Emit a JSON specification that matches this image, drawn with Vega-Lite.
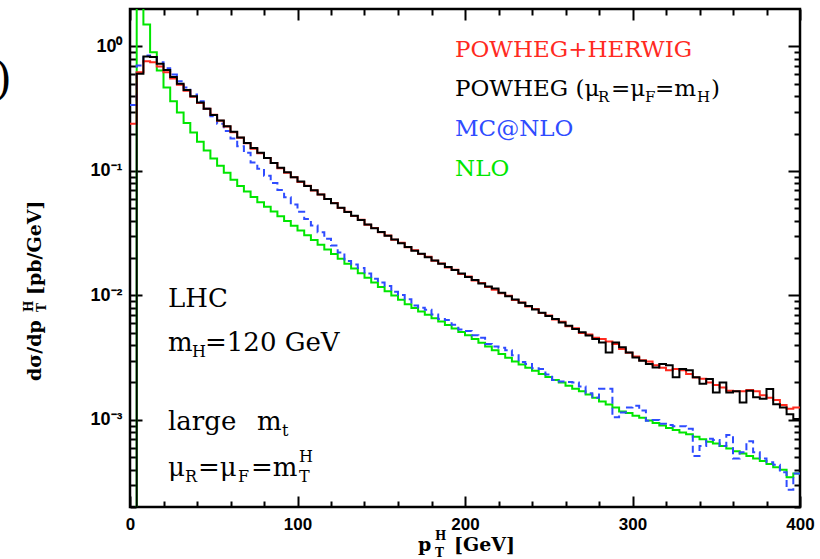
{
  "$schema": "https://vega.github.io/schema/vega-lite/v6.json",
  "width": 670,
  "height": 498,
  "autosize": {"type": "none"},
  "padding": {"left": 130, "top": 9, "right": 20, "bottom": 52},
  "background": "white",
  "config": {"view": {"stroke": "black", "strokeWidth": 2.5}},
  "datasets": {
    "curves": [
      {"pt":0,"PH":0.24,"P":0.00001,"MC":0.339,"NLO":0.00001},
      {"pt":4,"PH":0.622,"P":0.603,"MC":0.703,"NLO":20},
      {"pt":8,"PH":0.762,"P":0.832,"MC":0.847,"NLO":1.5},
      {"pt":12,"PH":0.748,"P":0.822,"MC":0.822,"NLO":0.9},
      {"pt":16,"PH":0.69,"P":0.726,"MC":0.748,"NLO":0.641},
      {"pt":20,"PH":0.62,"P":0.646,"MC":0.668,"NLO":0.468},
      {"pt":24,"PH":0.552,"P":0.569,"MC":0.596,"NLO":0.363},
      {"pt":28,"PH":0.492,"P":0.501,"MC":0.525,"NLO":0.295},
      {"pt":32,"PH":0.44,"P":0.447,"MC":0.468,"NLO":0.243},
      {"pt":36,"PH":0.394,"P":0.398,"MC":0.412,"NLO":0.204},
      {"pt":40,"PH":0.352,"P":0.355,"MC":0.363,"NLO":0.172},
      {"pt":44,"PH":0.316,"P":0.316,"MC":0.316,"NLO":0.146},
      {"pt":48,"PH":0.283,"P":0.282,"MC":0.275,"NLO":0.126},
      {"pt":52,"PH":0.253,"P":0.254,"MC":0.24,"NLO":0.11},
      {"pt":56,"PH":0.228,"P":0.229,"MC":0.209,"NLO":0.0966},
      {"pt":60,"PH":0.205,"P":0.207,"MC":0.182,"NLO":0.0851},
      {"pt":64,"PH":0.185,"P":0.186,"MC":0.158,"NLO":0.0759},
      {"pt":68,"PH":0.167,"P":0.168,"MC":0.14,"NLO":0.0684},
      {"pt":72,"PH":0.151,"P":0.153,"MC":0.117,"NLO":0.0617},
      {"pt":76,"PH":0.139,"P":0.14,"MC":0.104,"NLO":0.0562},
      {"pt":80,"PH":0.127,"P":0.127,"MC":0.0916,"NLO":0.0515},
      {"pt":84,"PH":0.116,"P":0.116,"MC":0.0802,"NLO":0.0472},
      {"pt":88,"PH":0.105,"P":0.106,"MC":0.0702,"NLO":0.0433},
      {"pt":92,"PH":0.097,"P":0.0977,"MC":0.0614,"NLO":0.0396},
      {"pt":96,"PH":0.089,"P":0.0891,"MC":0.0537,"NLO":0.0363},
      {"pt":100,"PH":0.0815,"P":0.0822,"MC":0.047,"NLO":0.0333},
      {"pt":104,"PH":0.076,"P":0.0759,"MC":0.0411,"NLO":0.0305},
      {"pt":108,"PH":0.0698,"P":0.07,"MC":0.0364,"NLO":0.0279},
      {"pt":112,"PH":0.0648,"P":0.0646,"MC":0.0322,"NLO":0.0256},
      {"pt":116,"PH":0.0595,"P":0.0596,"MC":0.0285,"NLO":0.0234},
      {"pt":120,"PH":0.0552,"P":0.055,"MC":0.0252,"NLO":0.0215},
      {"pt":124,"PH":0.0505,"P":0.0507,"MC":0.0221,"NLO":0.0197},
      {"pt":128,"PH":0.047,"P":0.0468,"MC":0.0189,"NLO":0.018},
      {"pt":132,"PH":0.0435,"P":0.0437,"MC":0.0177,"NLO":0.0165},
      {"pt":136,"PH":0.0405,"P":0.0403,"MC":0.0166,"NLO":0.0151},
      {"pt":140,"PH":0.037,"P":0.0372,"MC":0.015,"NLO":0.0139},
      {"pt":144,"PH":0.0349,"P":0.0347,"MC":0.0136,"NLO":0.0127},
      {"pt":148,"PH":0.0322,"P":0.0324,"MC":0.0127,"NLO":0.0117},
      {"pt":152,"PH":0.0303,"P":0.0302,"MC":0.0119,"NLO":0.0108},
      {"pt":156,"PH":0.028,"P":0.0282,"MC":0.0107,"NLO":0.01},
      {"pt":160,"PH":0.0265,"P":0.0263,"MC":0.0101,"NLO":0.00923},
      {"pt":164,"PH":0.0244,"P":0.0245,"MC":0.00933,"NLO":0.00851},
      {"pt":168,"PH":0.0231,"P":0.0229,"MC":0.00832,"NLO":0.00794},
      {"pt":172,"PH":0.0215,"P":0.0216,"MC":0.00798,"NLO":0.00745},
      {"pt":176,"PH":0.0205,"P":0.0203,"MC":0.00767,"NLO":0.007},
      {"pt":180,"PH":0.019,"P":0.0191,"MC":0.00703,"NLO":0.00656},
      {"pt":184,"PH":0.0181,"P":0.018,"MC":0.00646,"NLO":0.00617},
      {"pt":188,"PH":0.0168,"P":0.0169,"MC":0.00634,"NLO":0.00578},
      {"pt":192,"PH":0.0161,"P":0.016,"MC":0.00581,"NLO":0.00542},
      {"pt":196,"PH":0.0149,"P":0.015,"MC":0.00533,"NLO":0.00509},
      {"pt":200,"PH":0.0142,"P":0.0141,"MC":0.00519,"NLO":0.00479},
      {"pt":204,"PH":0.0132,"P":0.0133,"MC":0.00479,"NLO":0.00447},
      {"pt":208,"PH":0.0126,"P":0.0125,"MC":0.00457,"NLO":0.00417},
      {"pt":212,"PH":0.0117,"P":0.0118,"MC":0.00407,"NLO":0.00389},
      {"pt":216,"PH":0.0111,"P":0.0114,"MC":0.00389,"NLO":0.00363},
      {"pt":220,"PH":0.0104,"P":0.0105,"MC":0.0038,"NLO":0.00339},
      {"pt":224,"PH":0.00995,"P":0.00984,"MC":0.00363,"NLO":0.00316},
      {"pt":228,"PH":0.0092,"P":0.00927,"MC":0.00331,"NLO":0.00295},
      {"pt":232,"PH":0.0088,"P":0.00873,"MC":0.00292,"NLO":0.00279},
      {"pt":236,"PH":0.00815,"P":0.00822,"MC":0.00282,"NLO":0.00263},
      {"pt":240,"PH":0.0078,"P":0.00773,"MC":0.0026,"NLO":0.00248},
      {"pt":244,"PH":0.00722,"P":0.00728,"MC":0.00257,"NLO":0.00234},
      {"pt":248,"PH":0.00692,"P":0.00685,"MC":0.00232,"NLO":0.00221},
      {"pt":252,"PH":0.0064,"P":0.00646,"MC":0.00209,"NLO":0.00209},
      {"pt":256,"PH":0.00615,"P":0.00608,"MC":0.00204,"NLO":0.002},
      {"pt":260,"PH":0.00565,"P":0.00571,"MC":0.00202,"NLO":0.00188},
      {"pt":264,"PH":0.00545,"P":0.00538,"MC":0.002,"NLO":0.00178},
      {"pt":268,"PH":0.005,"P":0.00507,"MC":0.00186,"NLO":0.0017},
      {"pt":272,"PH":0.00485,"P":0.00478,"MC":0.00164,"NLO":0.0016},
      {"pt":276,"PH":0.00457,"P":0.00447,"MC":0.00151,"NLO":0.00151},
      {"pt":280,"PH":0.00447,"P":0.0042,"MC":0.00178,"NLO":0.00141},
      {"pt":284,"PH":0.00427,"P":0.00349,"MC":0.00178,"NLO":0.00133},
      {"pt":288,"PH":0.00407,"P":0.0042,"MC":0.00105,"NLO":0.00126},
      {"pt":292,"PH":0.00372,"P":0.00383,"MC":0.00115,"NLO":0.00117},
      {"pt":296,"PH":0.00347,"P":0.00349,"MC":0.00126,"NLO":0.00114},
      {"pt":300,"PH":0.00324,"P":0.00318,"MC":0.0013,"NLO":0.00108},
      {"pt":304,"PH":0.00302,"P":0.00299,"MC":0.00119,"NLO":0.00104},
      {"pt":308,"PH":0.00295,"P":0.00281,"MC":0.000986,"NLO":0.000989},
      {"pt":312,"PH":0.00275,"P":0.00264,"MC":0.001,"NLO":0.000944},
      {"pt":316,"PH":0.00263,"P":0.00282,"MC":0.000933,"NLO":0.000902},
      {"pt":320,"PH":0.00251,"P":0.00275,"MC":0.000912,"NLO":0.000861},
      {"pt":324,"PH":0.00257,"P":0.0022,"MC":0.000891,"NLO":0.000832},
      {"pt":328,"PH":0.00251,"P":0.00257,"MC":0.000891,"NLO":0.000794},
      {"pt":332,"PH":0.00234,"P":0.00251,"MC":0.000851,"NLO":0.000767},
      {"pt":336,"PH":0.00219,"P":0.0022,"MC":0.000513,"NLO":0.000733},
      {"pt":340,"PH":0.00214,"P":0.00195,"MC":0.000617,"NLO":0.0007},
      {"pt":344,"PH":0.002,"P":0.00213,"MC":0.000708,"NLO":0.000668},
      {"pt":348,"PH":0.00191,"P":0.00166,"MC":0.000692,"NLO":0.000646},
      {"pt":352,"PH":0.00182,"P":0.002,"MC":0.000617,"NLO":0.000617},
      {"pt":356,"PH":0.00172,"P":0.00166,"MC":0.000759,"NLO":0.000589},
      {"pt":360,"PH":0.0017,"P":0.0017,"MC":0.00049,"NLO":0.000562},
      {"pt":364,"PH":0.0017,"P":0.00138,"MC":0.00055,"NLO":0.000537},
      {"pt":368,"PH":0.00174,"P":0.00172,"MC":0.000676,"NLO":0.000513},
      {"pt":372,"PH":0.0017,"P":0.00152,"MC":0.00055,"NLO":0.00049},
      {"pt":376,"PH":0.00158,"P":0.00148,"MC":0.00049,"NLO":0.000468},
      {"pt":380,"PH":0.00151,"P":0.00177,"MC":0.000457,"NLO":0.000442},
      {"pt":384,"PH":0.00145,"P":0.00134,"MC":0.000437,"NLO":0.000417},
      {"pt":388,"PH":0.00132,"P":0.00126,"MC":0.00038,"NLO":0.000398},
      {"pt":392,"PH":0.00123,"P":0.00111,"MC":0.000275,"NLO":0.000347},
      {"pt":396,"PH":0.00126,"P":0.00102,"MC":0.000372,"NLO":0.000372},
      {"pt":400,"PH":0.00126,"P":0.00102,"MC":0.000372,"NLO":0.000372}
    ],
    "leg": [
      {"x":194.03,"y":0.823,"t":"POWHEG+HERWIG","s":"PH"},
      {"x":194.03,"y":0.4002,"t":"POWHEG (μ","s":"P"},
      {"x":287.16,"y":0.4002,"t":"=μ","s":"P"},
      {"x":313.43,"y":0.4002,"t":"=m","s":"P"},
      {"x":346.87,"y":0.4002,"t":")","s":"P"},
      {"x":194.03,"y":0.191,"t":"MC@NLO","s":"MC"},
      {"x":194.03,"y":0.09114,"t":"NLO","s":"NLO"}
    ],
    "legsub": [
      {"x":279.4,"y":0.3581,"t":"R","s":"P"},
      {"x":307.46,"y":0.3581,"t":"F","s":"P"},
      {"x":338.5,"y":0.3581,"t":"H","s":"P"}
    ],
    "ann": [
      {"x":22.69,"y":0.008079,"t":"LHC"},
      {"x":22.69,"y":0.003581,"t":"m"},
      {"x":44.78,"y":0.003581,"t":"=120  GeV"},
      {"x":22.69,"y":0.000831,"t":"large"},
      {"x":75.82,"y":0.000831,"t":"m"},
      {"x":22.69,"y":0.0003548,"t":"μ"},
      {"x":40.6,"y":0.0003548,"t":"=μ"},
      {"x":72.24,"y":0.0003548,"t":"=m"}
    ],
    "annsub": [
      {"x":37.01,"y":0.003206,"t":"H"},
      {"x":90.75,"y":0.000743,"t":"t"},
      {"x":32.84,"y":0.0003175,"t":"R"},
      {"x":64.48,"y":0.0003175,"t":"F"},
      {"x":100.9,"y":0.0003175,"t":"T"},
      {"x":100.9,"y":0.0004597,"t":"H"}
    ],
    "xt": [
      {"x":171.94,"y":0.0000886,"t":"p"},
      {"x":193.43,"y":0.0000886,"t":"[GeV]"}
    ],
    "xtsub": [
      {"x":182.09,"y":0.0000793,"t":"T"},
      {"x":182.09,"y":0.0001086,"t":"H"}
    ],
    "yt": [
      {"x":-53.13,"y":0.002056,"t":"dσ/dp"},
      {"x":-53.13,"y":0.01009,"t":"[pb/GeV]"}
    ],
    "ytsub": [
      {"x":-50.15,"y":0.007369,"t":"T"},
      {"x":-57.91,"y":0.007369,"t":"H"}
    ],
    "paren": [
      {"x":-70.45,"y":0.4152,"t":")"}
    ]
  },
  "resolve": {"axis": {"x": "independent", "y": "independent"}},
  "layer": [
    {
      "data": {"name": "curves"},
      "transform": [
        {"fold": ["PH", "P", "MC", "NLO"], "as": ["series", "val"]},
        {"filter": "datum.series === 'NLO'"}
      ],
      "mark": {"type": "line", "interpolate": "step-after", "strokeWidth": 2, "clip": true},
      "encoding": {
        "x": {
          "field": "pt", "type": "quantitative",
          "scale": {"domain": [0, 400], "nice": false, "zero": false},
          "axis": {
            "orient": "bottom", "title": null, "domain": false, "grid": false,
            "values": [0,20,40,60,80,100,120,140,160,180,200,220,240,260,280,300,320,340,360,380,400],
            "labelExpr": "datum.value % 100 === 0 ? datum.label : ''",
            "tickSize": {"condition": {"test": "datum.value % 100 === 0", "value": -11}, "value": -6},
            "tickColor": "black", "tickWidth": 2,
            "labelFont": "Liberation Sans", "labelFontWeight": "bold", "labelFontSize": 17,
            "labelColor": "black", "labelPadding": 20, "labelFlush": false, "labelOverlap": false
          }
        },
        "y": {
          "field": "val", "type": "quantitative",
          "scale": {"type": "log", "domain": [0.0002, 2], "nice": false},
          "axis": {
            "orient": "left", "title": null, "domain": false, "grid": false,
            "values": [0.0002,0.0003,0.0004,0.0005,0.0006,0.0007,0.0008,0.0009,0.001,0.002,0.003,0.004,0.005,0.006,0.007,0.008,0.009,0.01,0.02,0.03,0.04,0.05,0.06,0.07,0.08,0.09,0.1,0.2,0.3,0.4,0.5,0.6,0.7,0.8,0.9,1],
            "labelExpr": "datum.value === 1 ? '10⁰' : datum.value === 0.1 ? '10⁻¹' : datum.value === 0.01 ? '10⁻²' : datum.value === 0.001 ? '10⁻³' : ''",
            "tickSize": {"condition": {"test": "indexof([1, 0.1, 0.01, 0.001], datum.value) >= 0", "value": -12}, "value": -6},
            "tickColor": "black", "tickWidth": 2,
            "labelFont": "Liberation Sans", "labelFontWeight": "bold", "labelFontSize": 18,
            "labelColor": "black", "labelPadding": 20, "labelOverlap": false
          }
        },
        "color": {"field": "series", "type": "nominal", "legend": null,
          "scale": {"domain": ["PH", "P", "MC", "NLO"], "range": ["#ff2a1f", "#000000", "#2f4cff", "#00e600"]}}
      }
    },
    {
      "data": {"name": "curves"},
      "transform": [
        {"fold": ["PH", "P", "MC", "NLO"], "as": ["series", "val"]},
        {"filter": "datum.series === 'MC'"}
      ],
      "mark": {"type": "line", "interpolate": "step-after", "strokeWidth": 2, "strokeDash": [7, 4], "clip": true},
      "encoding": {
        "x": {"field": "pt", "type": "quantitative", "axis": null},
        "y": {"field": "val", "type": "quantitative", "axis": null},
        "color": {"field": "series", "type": "nominal", "legend": null}
      }
    },
    {
      "data": {"name": "curves"},
      "transform": [
        {"fold": ["PH", "P", "MC", "NLO"], "as": ["series", "val"]},
        {"filter": "datum.series === 'PH'"}
      ],
      "mark": {"type": "line", "interpolate": "step-after", "strokeWidth": 2, "clip": true},
      "encoding": {
        "x": {"field": "pt", "type": "quantitative", "axis": null},
        "y": {"field": "val", "type": "quantitative", "axis": null},
        "color": {"field": "series", "type": "nominal", "legend": null}
      }
    },
    {
      "data": {"name": "curves"},
      "transform": [
        {"fold": ["PH", "P", "MC", "NLO"], "as": ["series", "val"]},
        {"filter": "datum.series === 'P'"}
      ],
      "mark": {"type": "line", "interpolate": "step-after", "strokeWidth": 2, "clip": true},
      "encoding": {
        "x": {"field": "pt", "type": "quantitative", "axis": null},
        "y": {"field": "val", "type": "quantitative", "axis": null},
        "color": {"field": "series", "type": "nominal", "legend": null}
      }
    },
    {
      "data": {"name": "leg"},
      "mark": {"type": "text", "align": "left", "baseline": "alphabetic", "font": "DejaVu Serif", "fontSize": 23},
      "encoding": {
        "x": {"field": "x", "type": "quantitative",
          "axis": {
            "orient": "top", "title": null, "domain": false, "grid": false, "labels": false,
            "values": [0,20,40,60,80,100,120,140,160,180,200,220,240,260,280,300,320,340,360,380,400],
            "tickSize": {"condition": {"test": "datum.value % 100 === 0", "value": -11}, "value": -6},
            "tickColor": "black", "tickWidth": 2
          }},
        "y": {"field": "y", "type": "quantitative",
          "axis": {
            "orient": "right", "title": null, "domain": false, "grid": false, "labels": false,
            "values": [0.0002,0.0003,0.0004,0.0005,0.0006,0.0007,0.0008,0.0009,0.001,0.002,0.003,0.004,0.005,0.006,0.007,0.008,0.009,0.01,0.02,0.03,0.04,0.05,0.06,0.07,0.08,0.09,0.1,0.2,0.3,0.4,0.5,0.6,0.7,0.8,0.9,1],
            "tickSize": {"condition": {"test": "indexof([1, 0.1, 0.01, 0.001], datum.value) >= 0", "value": -12}, "value": -6},
            "tickColor": "black", "tickWidth": 2
          }},
        "text": {"field": "t", "type": "nominal"},
        "color": {"field": "s", "type": "nominal", "legend": null}
      }
    },
    {
      "data": {"name": "legsub"},
      "mark": {"type": "text", "align": "left", "baseline": "alphabetic", "font": "DejaVu Serif", "fontSize": 15},
      "encoding": {
        "x": {"field": "x", "type": "quantitative", "axis": null},
        "y": {"field": "y", "type": "quantitative", "axis": null},
        "text": {"field": "t", "type": "nominal"},
        "color": {"field": "s", "type": "nominal", "legend": null}
      }
    },
    {
      "data": {"name": "ann"},
      "mark": {"type": "text", "align": "left", "baseline": "alphabetic", "font": "DejaVu Serif", "fontSize": 26, "color": "black"},
      "encoding": {
        "x": {"field": "x", "type": "quantitative", "axis": null},
        "y": {"field": "y", "type": "quantitative", "axis": null},
        "text": {"field": "t", "type": "nominal"}
      }
    },
    {
      "data": {"name": "annsub"},
      "mark": {"type": "text", "align": "left", "baseline": "alphabetic", "font": "DejaVu Serif", "fontSize": 16, "color": "black"},
      "encoding": {
        "x": {"field": "x", "type": "quantitative", "axis": null},
        "y": {"field": "y", "type": "quantitative", "axis": null},
        "text": {"field": "t", "type": "nominal"}
      }
    },
    {
      "data": {"name": "xt"},
      "mark": {"type": "text", "align": "left", "baseline": "alphabetic", "font": "DejaVu Serif", "fontWeight": "bold", "fontSize": 19, "color": "black"},
      "encoding": {
        "x": {"field": "x", "type": "quantitative", "axis": null},
        "y": {"field": "y", "type": "quantitative", "axis": null},
        "text": {"field": "t", "type": "nominal"}
      }
    },
    {
      "data": {"name": "xtsub"},
      "mark": {"type": "text", "align": "left", "baseline": "alphabetic", "font": "DejaVu Serif", "fontWeight": "bold", "fontSize": 12, "color": "black"},
      "encoding": {
        "x": {"field": "x", "type": "quantitative", "axis": null},
        "y": {"field": "y", "type": "quantitative", "axis": null},
        "text": {"field": "t", "type": "nominal"}
      }
    },
    {
      "data": {"name": "yt"},
      "mark": {"type": "text", "align": "left", "baseline": "alphabetic", "angle": 270, "font": "DejaVu Serif", "fontWeight": "bold", "fontSize": 19, "color": "black"},
      "encoding": {
        "x": {"field": "x", "type": "quantitative", "axis": null},
        "y": {"field": "y", "type": "quantitative", "axis": null},
        "text": {"field": "t", "type": "nominal"}
      }
    },
    {
      "data": {"name": "ytsub"},
      "mark": {"type": "text", "align": "left", "baseline": "alphabetic", "angle": 270, "font": "DejaVu Serif", "fontWeight": "bold", "fontSize": 12, "color": "black"},
      "encoding": {
        "x": {"field": "x", "type": "quantitative", "axis": null},
        "y": {"field": "y", "type": "quantitative", "axis": null},
        "text": {"field": "t", "type": "nominal"}
      }
    },
    {
      "data": {"name": "paren"},
      "mark": {"type": "text", "align": "right", "baseline": "alphabetic", "font": "DejaVu Serif", "fontSize": 44, "color": "black"},
      "encoding": {
        "x": {"field": "x", "type": "quantitative", "axis": null},
        "y": {"field": "y", "type": "quantitative", "axis": null},
        "text": {"field": "t", "type": "nominal"}
      }
    }
  ]
}
